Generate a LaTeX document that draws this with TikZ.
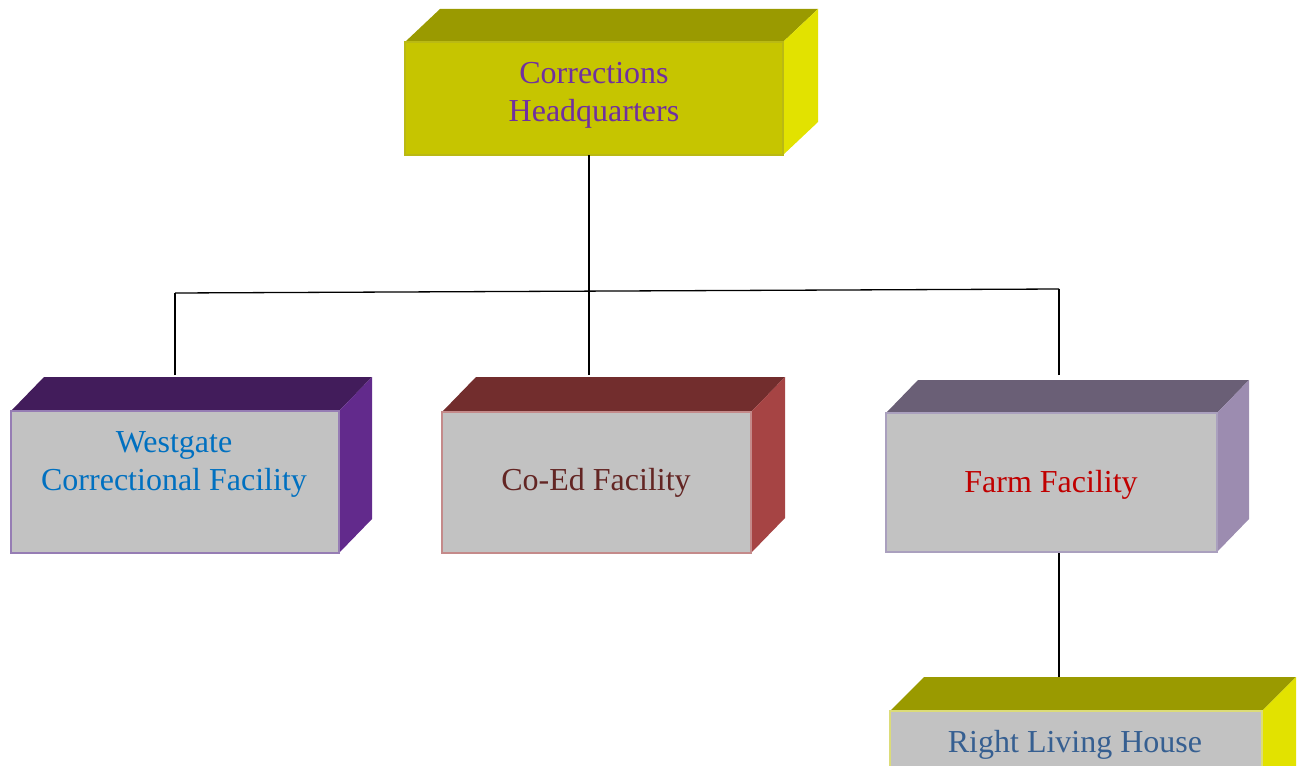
\documentclass[tikz,border=0pt]{standalone}
\usepackage{fontspec}
\setmainfont{Liberation Serif}
\usetikzlibrary{calc,backgrounds}

\definecolor{hqfront}{RGB}{198,197,0}
\definecolor{hqedge}{RGB}{186,185,20}
\definecolor{olivetop}{RGB}{154,154,0}
\definecolor{yellowside}{RGB}{226,226,0}
\definecolor{greyfront}{RGB}{194,194,194}
\definecolor{westedge}{RGB}{150,125,180}
\definecolor{westtop}{RGB}{66,28,91}
\definecolor{westside}{RGB}{98,42,140}
\definecolor{coededge}{RGB}{196,138,138}
\definecolor{coedtop}{RGB}{114,45,45}
\definecolor{coedside}{RGB}{166,68,68}
\definecolor{farmedge}{RGB}{170,160,190}
\definecolor{farmtop}{RGB}{106,95,118}
\definecolor{farmside}{RGB}{156,140,176}
\definecolor{rlhedge}{RGB}{220,220,120}
\definecolor{hqtext}{RGB}{112,48,160}
\definecolor{westtext}{RGB}{0,112,192}
\definecolor{coedtext}{RGB}{99,37,35}
\definecolor{farmtext}{RGB}{192,0,0}
\definecolor{rlhtext}{RGB}{54,95,145}

% top and right faces of a crate: node, dx, dy, top colour, side colour
\newcommand{\cratesides}[5]{%
  \begin{scope}[on background layer]
  \fill[#4] (#1.north west) -- ++(#2,-#3) -- ($(#1.north east)+(#2,-#3)$) -- (#1.north east) -- cycle ;
  \fill[#5] (#1.north east) -- ++(#2,-#3) -- ($(#1.south east)+(#2,-#3)$) -- (#1.south east) -- cycle ;
  \end{scope}}

\tikzset{
  front/.style={rectangle,draw,line width=1.4pt,inner sep=0pt,outer sep=0pt},
  lbl/.style={align=center,inner sep=0pt,font=\fontsize{32}{38}\selectfont},
  link/.style={line width=1.3pt,black},
}

\begin{document}
\begin{tikzpicture}[x=1pt,y=-1pt]
	\clip (0,0) rectangle (1297,765) ;
	% crates
	\node[front,fill=hqfront,draw=hqedge,minimum width=378pt,minimum height=113pt] (hq) at (594,98.5) {} ;
	\node[front,fill=greyfront,draw=westedge,minimum width=328pt,minimum height=142pt] (west) at (175,482) {} ;
	\node[front,fill=greyfront,draw=coededge,minimum width=309pt,minimum height=141pt] (coed) at (596.5,482.5) {} ;
	\node[front,fill=greyfront,draw=farmedge,minimum width=331pt,minimum height=139pt] (farm) at (1051.5,482.5) {} ;
	\node[front,fill=greyfront,draw=rlhedge,minimum width=372pt,minimum height=140pt] (rlh) at (1076,781) {} ;
	\cratesides{hq}{35}{33}{olivetop}{yellowside}
	\cratesides{west}{33}{34}{westtop}{westside}
	\cratesides{coed}{34}{35}{coedtop}{coedside}
	\cratesides{farm}{32}{33}{farmtop}{farmside}
	\cratesides{rlh}{34}{34}{olivetop}{yellowside}
	% labels
	\node[lbl,text=hqtext] (hqlbl) at (594,95) {Corrections\\Headquarters} ;
	\node[lbl,text=westtext] (westlbl) at (174,464) {Westgate\\Correctional Facility} ;
	\node[lbl,text=coedtext,anchor=base] (coedlbl) at (596,490) {Co-Ed Facility} ;
	\node[lbl,text=farmtext,anchor=base] (farmlbl) at (1051,492) {Farm Facility} ;
	\node[lbl,text=rlhtext,anchor=base] (rlhlbl) at (1075,752) {Right Living House} ;
	% connectors
	\coordinate (busw) at (175,293) ;
	\coordinate (buse) at (1059,289) ;
	\coordinate (hqfoot) at (589,155) ;
	\coordinate (westtip) at (175,375) ;
	\coordinate (coedtip) at (589,375) ;
	\coordinate (farmtip) at (1059,375) ;
	\coordinate (farmfoot) at (1059,553) ;
	\coordinate (rlhtip) at (1059,677) ;
	\begin{scope}[link]
	\draw (busw) -- (buse) ;
	\draw (hqfoot) -- (coedtip) ;
	\draw (westtip) -- (busw) ;
	\draw (farmtip) -- (buse) ;
	\draw (farmfoot) -- (rlhtip) ;
	\end{scope}
\end{tikzpicture}
\end{document}
